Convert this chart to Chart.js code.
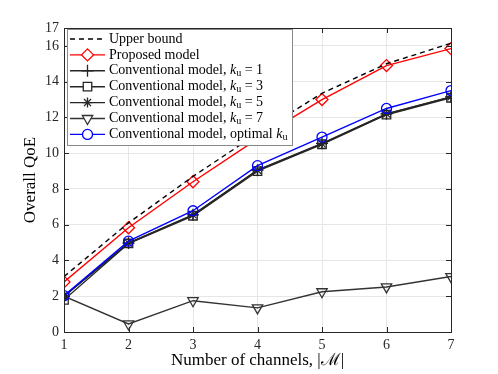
<!DOCTYPE html>
<html>
<head>
<meta charset="utf-8">
<script src="https://cdn.jsdelivr.net/npm/chart.js@4"></script>
<style>
  html, body { margin: 0; padding: 0; background: #fff; }
  #wrap { width: 498px; height: 374px; }
</style>
</head>
<body>
<div id="wrap"><canvas id="myChart" width="498" height="374"></canvas></div>
<script>
const channels = [1, 2, 3, 4, 5, 6, 7];
const upperBound = [3.1, 6.1, 8.7, 11.1, 13.35, 15.0, 16.15];
const proposed = [2.8, 5.83, 8.4, 10.8, 13.0, 14.9, 15.85];
const convK1 = [2.0, 4.97, 6.55, 9.05, 10.55, 12.2, 13.15];
const convK3 = [1.8, 4.95, 6.5, 9.0, 10.5, 12.15, 13.1];
const convK5 = [2.0, 4.97, 6.55, 9.05, 10.52, 12.2, 13.15];
const convK7 = [2.0, 0.45, 1.75, 1.35, 2.25, 2.52, 3.1];
const convOpt = [2.03, 5.08, 6.78, 9.3, 10.9, 12.5, 13.5];
const yTicks = [0, 2, 4, 6, 8, 10, 12, 14, 16, 17];

const labels = [
  {text: 'Upper bound'},
  {text: 'Proposed model'},
  {text: 'Conventional model, ', k: ' = 1'},
  {text: 'Conventional model, ', k: ' = 3'},
  {text: 'Conventional model, ', k: ' = 5'},
  {text: 'Conventional model, ', k: ' = 7'},
  {text: 'Conventional model, optimal ', k: ''}
];

const serif = '"Liberation Serif", "Times New Roman", serif';
const pts = (arr) => arr.map((v, i) => ({x: channels[i], y: v}));

function line(data, color, style, radius, extra) {
  return Object.assign({
    data: pts(data),
    borderColor: color,
    backgroundColor: 'rgba(0,0,0,0)',
    pointBorderColor: color,
    pointBackgroundColor: 'rgba(0,0,0,0)',
    pointStyle: style,
    pointRadius: radius,
    pointBorderWidth: 1.3,
    borderWidth: 1.4,
    fill: false,
    tension: 0
  }, extra || {});
}

// MATLAB-like frame with inward ticks
const framePlugin = {
  id: 'frame',
  afterDatasetsDraw(chart) {
    const {ctx, chartArea: a, scales: {x, y}} = chart;
    ctx.save();
    ctx.strokeStyle = '#262626';
    ctx.lineWidth = 1;
    ctx.strokeRect(a.left + 0.5, a.top + 0.5, a.right - a.left, a.bottom - a.top);
    ctx.beginPath();
    channels.forEach(v => {
      const px = Math.round(x.getPixelForValue(v)) + 0.5;
      ctx.moveTo(px, a.bottom); ctx.lineTo(px, a.bottom - 5);
      ctx.moveTo(px, a.top); ctx.lineTo(px, a.top + 5);
    });
    yTicks.forEach(v => {
      const py = Math.round(y.getPixelForValue(v)) + 0.5;
      ctx.moveTo(a.left, py); ctx.lineTo(a.left + 5, py);
      ctx.moveTo(a.right, py); ctx.lineTo(a.right - 5, py);
    });
    ctx.stroke();
    ctx.restore();
  }
};

// boxed legend with line + marker samples
const legendPlugin = {
  id: 'boxLegend',
  afterDraw(chart) {
    const {ctx} = chart;
    const bx = 67, by = 29, bw = 225, bh = 116, row = 15.9;
    ctx.save();
    ctx.fillStyle = '#fff';
    ctx.fillRect(bx, by, bw, bh);
    ctx.strokeStyle = '#8a8a8a';
    ctx.lineWidth = 1;
    ctx.strokeRect(bx + 0.5, by + 0.5, bw, bh);
    chart.data.datasets.forEach((ds, i) => {
      const cy = by + 10 + i * row;
      ctx.beginPath();
      ctx.strokeStyle = ds.borderColor;
      ctx.lineWidth = ds.borderWidth;
      ctx.setLineDash(ds.borderDash || []);
      ctx.moveTo(70, cy); ctx.lineTo(105, cy);
      ctx.stroke();
      ctx.setLineDash([]);
      if (ds.pointRadius > 0) {
        ctx.fillStyle = '#fff';
        ctx.strokeStyle = ds.pointBorderColor;
        ctx.lineWidth = ds.pointBorderWidth;
        Chart.helpers.drawPoint(ctx, {
          pointStyle: ds.pointStyle, radius: ds.pointRadius,
          rotation: ds.pointRotation || 0, borderWidth: ds.pointBorderWidth
        }, 87.5, cy);
      }
      const lb = labels[i];
      ctx.fillStyle = '#000';
      ctx.textBaseline = 'middle';
      ctx.font = '14px ' + serif;
      let tx = 109;
      ctx.fillText(lb.text, tx, cy);
      if (lb.k !== undefined) {
        tx += ctx.measureText(lb.text).width;
        ctx.font = 'italic 14px ' + serif;
        ctx.fillText('k', tx, cy);
        tx += ctx.measureText('k').width;
        ctx.font = '10px ' + serif;
        ctx.fillText('u', tx, cy + 3);
        tx += ctx.measureText('u').width;
        ctx.font = '14px ' + serif;
        ctx.fillText(lb.k, tx, cy);
      }
    });
    ctx.restore();
  }
};

const ctx = document.getElementById('myChart');
new Chart(ctx, {
  type: 'line',
  data: {
    datasets: [
      line(upperBound, '#000000', false, 0, {borderDash: [5, 4], order: 0}),
      line(proposed, '#ff0000', 'rectRot', 6, {order: 1}),
      line(convK1, '#262626', 'cross', 6, {order: 5}),
      line(convK3, '#262626', 'rect', 6, {order: 4}),
      line(convK5, '#262626', 'star', 5, {order: 3}),
      line(convK7, '#333333', 'triangle', 6, {pointRotation: 180, order: 6}),
      line(convOpt, '#0000ff', 'circle', 5, {order: 2})
    ]
  },
  options: {
    responsive: false,
    animation: false,
    layout: {padding: {left: 0, right: 47, top: 28, bottom: 0}},
    plugins: {legend: {display: false}, tooltip: {enabled: false}},
    scales: {
      x: {
        type: 'linear', min: 1, max: 7,
        afterBuildTicks: (s) => { s.ticks = channels.map(v => ({value: v})); },
        afterFit: (s) => { s.height = 42; },
        grid: {color: '#e6e6e6', drawTicks: false},
        border: {display: false},
        ticks: {color: '#262626', padding: 5, font: {family: serif, size: 14}},
        title: {display: true, text: 'Number of channels, |ℳ|', color: '#000',
                padding: {top: 3, bottom: 3}, font: {family: serif, size: 17}}
      },
      y: {
        type: 'linear', min: 0, max: 17,
        afterBuildTicks: (s) => { s.ticks = yTicks.map(v => ({value: v})); },
        afterFit: (s) => { s.width = 64; },
        grid: {color: (c) => c.tick && c.tick.value === 17 ? 'rgba(0,0,0,0)' : '#e6e6e6', drawTicks: false},
        border: {display: false},
        ticks: {color: '#262626', padding: 5, font: {family: serif, size: 14}},
        title: {display: true, text: 'Overall QoE', color: '#000',
                padding: {top: 20, bottom: 0}, font: {family: serif, size: 17}}
      }
    }
  },
  plugins: [framePlugin, legendPlugin]
});
</script>
</body>
</html>
